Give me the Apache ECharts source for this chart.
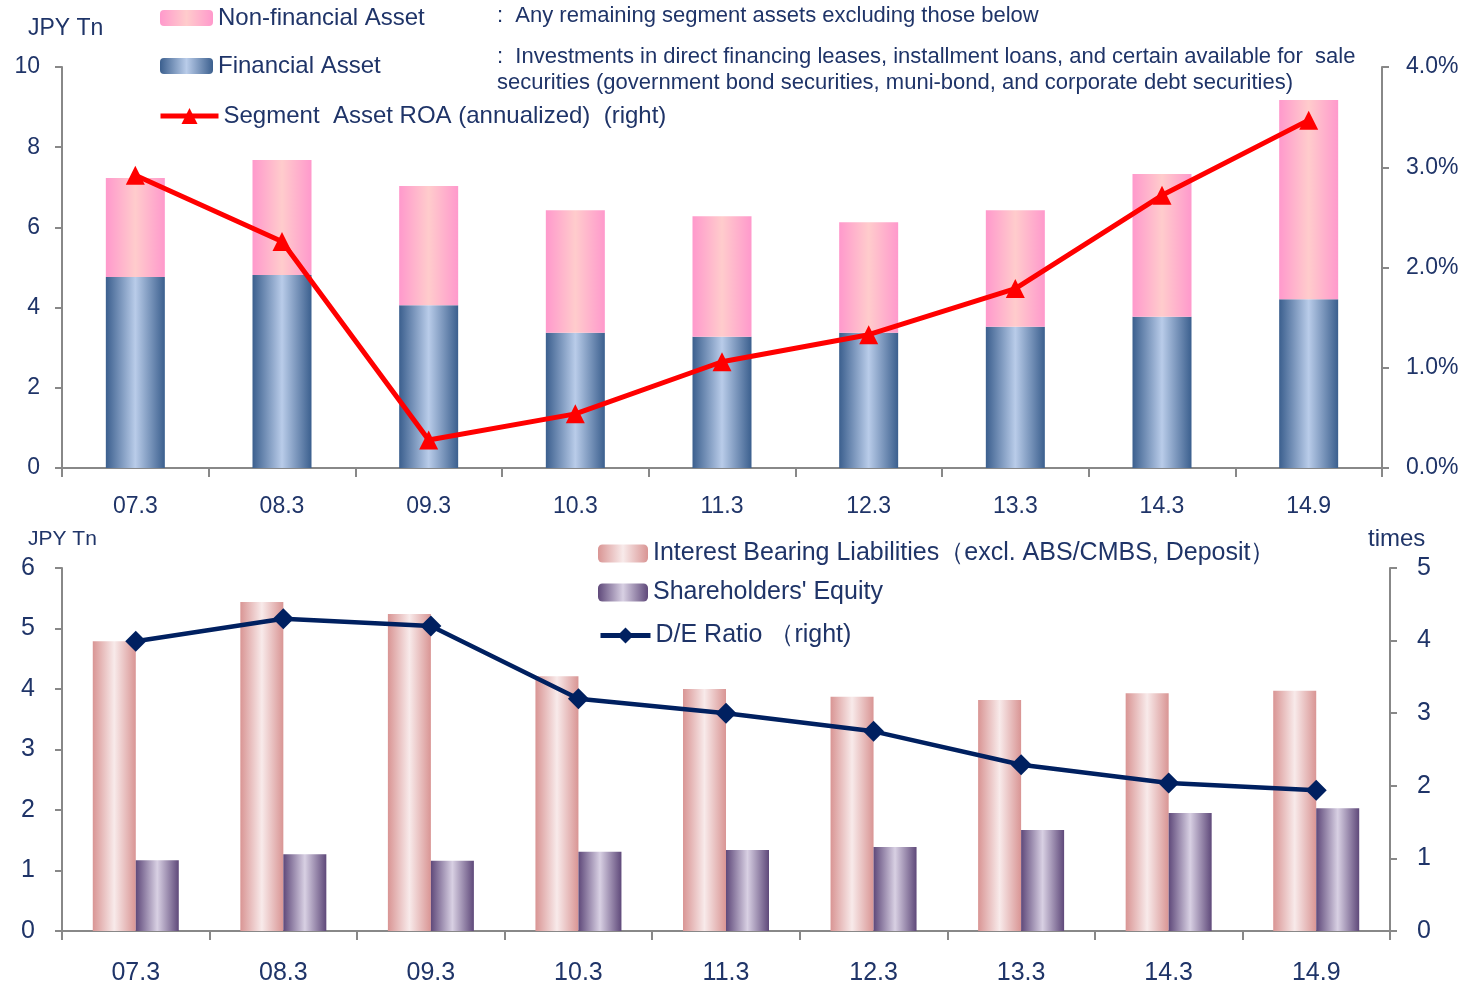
<!DOCTYPE html>
<html>
<head>
<meta charset="utf-8">
<script src="https://cdn.jsdelivr.net/npm/echarts@6/dist/echarts.min.js"></script>
<style>
html,body{margin:0;padding:0;background:#fff;}
#chart{width:1465px;height:982px;}
</style>
</head>
<body>
<div id="chart"></div>
<script>
// categories
var periods = ['07.3','08.3','09.3','10.3','11.3','12.3','13.3','14.3','14.9'];

// top chart (JPY Tn / %)
var financialAsset = [4.76, 4.81, 4.06, 3.37, 3.27, 3.37, 3.52, 3.77, 4.21];
var nonFinancialAsset = [2.47, 2.87, 2.97, 3.06, 3.01, 2.76, 2.91, 3.56, 4.97];
var segmentROA = [2.92, 2.26, 0.28, 0.54, 1.06, 1.33, 1.79, 2.72, 3.47];

// bottom chart (JPY Tn / times)
var interestLiab = [4.79, 5.44, 5.24, 4.21, 4.00, 3.87, 3.82, 3.93, 3.97];
var equity = [1.17, 1.27, 1.16, 1.31, 1.34, 1.39, 1.67, 1.95, 2.03];
var deRatio = [3.99, 4.30, 4.20, 3.20, 3.00, 2.75, 2.29, 2.04, 1.94];

var navy = '#1f3468';
var fontFam = '"Liberation Sans",sans-serif';

function grad(edge, mid){
    return new echarts.graphic.LinearGradient(0,0,1,0,[
        {offset:0,color:edge},{offset:0.5,color:mid},{offset:1,color:edge}
    ]);
}

function yAxisBase(gi, pos, min, max, interval, size, margin, fmt){
    return {
        type:'value', gridIndex:gi, position:pos, min:min, max:max, interval:interval,
        splitLine:{show:false},
        axisLine:{show:true,lineStyle:{color:'#888',width:2}},
        axisTick:{show:true,length:7,lineStyle:{color:'#888',width:2}},
        axisLabel:{color:navy,fontSize:size,fontFamily:fontFam,margin:margin,formatter:fmt}
    };
}

function xAxisBase(gi, size, margin){
    return {
        type:'category', gridIndex:gi, data:periods,
        axisLine:{lineStyle:{color:'#888',width:2}},
        axisTick:{show:true,length:9,lineStyle:{color:'#888',width:2}},
        axisLabel:{color:navy,fontSize:size,fontFamily:fontFam,margin:margin}
    };
}

function oneLegend(name, left, top, size, w, h){
    return {
        left:left, top:top, itemWidth:w, itemHeight:h, itemGap:6,
        lineStyle:{width:5},
        textStyle:{color:navy,fontSize:size,fontFamily:fontFam},
        data:[name]
    };
}

var myChart = echarts.init(document.getElementById('chart'));

var options = {
    animation:false,
    textStyle:{fontFamily:fontFam},
    grid:[
        {left:62,right:83,top:67,height:401,outerBoundsMode:'none'},
        {left:62,right:75,top:568,height:363,outerBoundsMode:'none'}
    ],
    xAxis:[ xAxisBase(0,23,27), xAxisBase(1,25,30) ],
    yAxis:[
        yAxisBase(0,'left',0,10,2,23,22),
        yAxisBase(0,'right',0,4,1,23,24,function(v){return v.toFixed(1)+'%';}),
        yAxisBase(1,'left',0,6,1,25,27),
        yAxisBase(1,'right',0,5,1,25,27)
    ],
    legend:[
        oneLegend('Non-financial Asset',155,1,24,53,16),
        oneLegend('Financial Asset',155,49,24,53,16),
        oneLegend('Segment  Asset ROA (annualized)  (right)',153,99,24,58,20),
        oneLegend('Interest Bearing Liabilities（excl. ABS/CMBS, Deposit）',593,536,25,50,18),
        oneLegend("Shareholders' Equity",593,575,25,50,18),
        oneLegend('D/E Ratio （right)',593,618,25,50,20)
    ],
    graphic:[
        {type:'text',left:28,top:17,style:{text:'JPY Tn',fill:navy,font:'23px '+fontFam}},
        {type:'text',left:28,top:529,style:{text:'JPY Tn',fill:navy,font:'21px '+fontFam}},
        {type:'text',left:1368,top:527,style:{text:'times',fill:navy,font:'24px '+fontFam}},
        {type:'text',left:497,top:5,style:{text:':  Any remaining segment assets excluding those below',fill:navy,font:'22px '+fontFam}},
        {type:'text',left:497,top:46,style:{text:':  Investments in direct financing leases, installment loans, and certain available for  sale',fill:navy,font:'22px '+fontFam}},
        {type:'text',left:497,top:72,style:{text:'securities (government bond securities, muni-bond, and corporate debt securities)',fill:navy,font:'22px '+fontFam}}
    ],
    series:[
        {
            name:'Financial Asset', type:'bar', stack:'asset', xAxisIndex:0, yAxisIndex:0,
            barWidth:59, data:financialAsset,
            itemStyle:{color:grad('#3b5f8e','#b9cce9')}
        },
        {
            name:'Non-financial Asset', type:'bar', stack:'asset', xAxisIndex:0, yAxisIndex:0,
            barWidth:59, data:nonFinancialAsset,
            itemStyle:{color:grad('#ff99cc','#ffcccc')}
        },
        {
            name:'Segment  Asset ROA (annualized)  (right)', type:'line', xAxisIndex:0, yAxisIndex:1,
            data:segmentROA, symbol:'triangle', symbolSize:19,
            lineStyle:{color:'#ff0000',width:5}, itemStyle:{color:'#ff0000'}
        },
        {
            name:'Interest Bearing Liabilities（excl. ABS/CMBS, Deposit）', type:'bar', xAxisIndex:1, yAxisIndex:2,
            barWidth:43, barGap:'0%', data:interestLiab,
            itemStyle:{color:grad('#d99594','#f8eaea')}
        },
        {
            name:"Shareholders' Equity", type:'bar', xAxisIndex:1, yAxisIndex:2,
            barWidth:43, barGap:'0%', data:equity,
            itemStyle:{color:grad('#5f497a','#d8d0e3')}
        },
        {
            name:'D/E Ratio （right)', type:'line', xAxisIndex:1, yAxisIndex:3,
            data:deRatio, symbol:'diamond', symbolSize:21,
            lineStyle:{color:'#002060',width:4.5}, itemStyle:{color:'#002060'}
        }
    ]
};
myChart.setOption(options, true);
</script>
</body>
</html>
